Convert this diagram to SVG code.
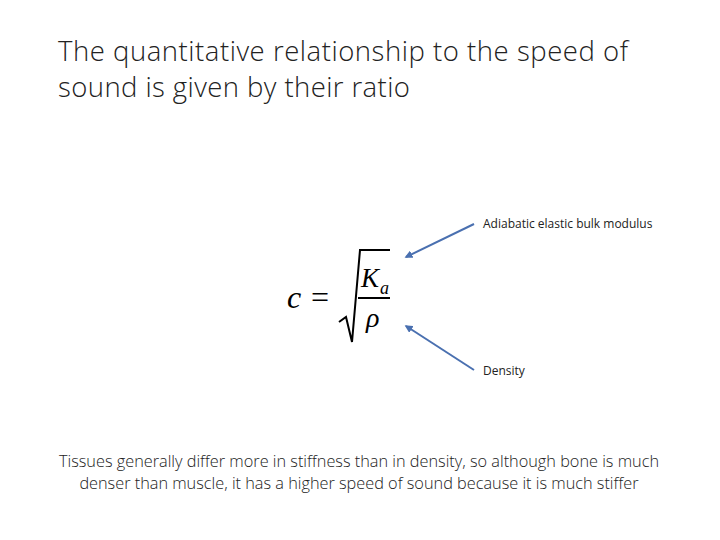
<svg xmlns="http://www.w3.org/2000/svg" width="720" height="540" viewBox="0 0 720 540">
<style>
.t{font-family:"Open Sans","Liberation Sans",sans-serif;font-weight:300;fill:#222}
.m{font-family:"Liberation Serif",serif;font-style:italic;fill:#000}
.a{stroke:#4a70b0;stroke-width:2;fill:none;marker-end:url(#h)}
</style>
<defs><marker id="h" viewBox="0 0 10 10" refX="8" refY="5" markerWidth="4" markerHeight="4" orient="auto"><path d="M0,0L10,5L0,10z" fill="#4a70b0"/></marker></defs>
<rect width="720" height="540" fill="#fff"/>
<g id="title"><text class="t" x="58" y="61" font-size="27.5" textLength="570">The quantitative relationship to the speed of</text><text class="t" x="58" y="97" font-size="27.5" textLength="352">sound is given by their ratio</text></g>
<g id="formula">
<text class="m" x="287" y="308" font-size="32">c</text>
<text x="311" y="308" font-size="32" font-family="Liberation Serif,serif">=</text>
<path d="M339,322 L346,317 L352,342 L360,250 L390,250" stroke="#000" stroke-width="2" fill="none"/>
<text class="m" x="361" y="287" font-size="27">K</text><text class="m" x="380" y="294" font-size="18">a</text>
<line x1="358" y1="298" x2="390" y2="298" stroke="#000" stroke-width="2"/>
<text class="m" x="366" y="327" font-size="28">ρ</text>
</g>
<g id="labels"><text class="t" x="483" y="228" font-size="12" style="font-weight:400">Adiabatic elastic bulk modulus</text><text class="t" x="483" y="375" font-size="12" style="font-weight:400">Density</text></g>
<g id="connectors"><line class="a" x1="474" y1="224" x2="406" y2="257"/><line class="a" x1="474" y1="370" x2="406" y2="326"/></g>
<g id="note"><text class="t" x="359" y="467" font-size="16.3" text-anchor="middle">Tissues generally differ more in stiffness than in density, so although bone is much</text><text class="t" x="359" y="489" font-size="16.3" text-anchor="middle">denser than muscle, it has a higher speed of sound because it is much stiffer</text></g>
</svg>
